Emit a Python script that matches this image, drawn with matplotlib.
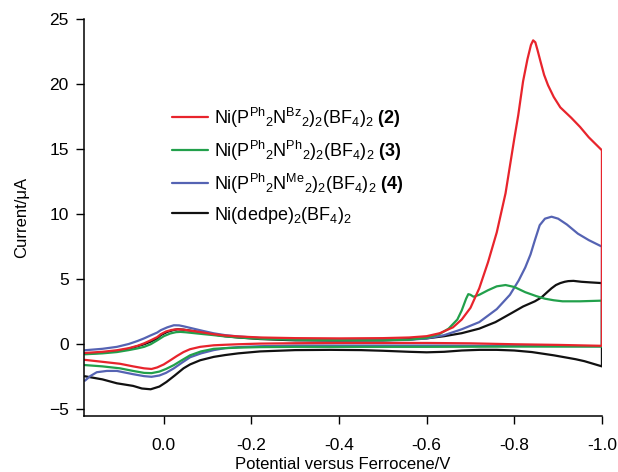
import matplotlib
matplotlib.use("Agg")
import matplotlib.pyplot as plt

plt.rcParams['font.family'] = ['Liberation Sans', 'DejaVu Sans']
plt.rcParams['mathtext.fontset'] = 'custom'
plt.rcParams['mathtext.rm'] = 'Liberation Sans'
plt.rcParams['mathtext.it'] = 'Liberation Sans:italic'
plt.rcParams['mathtext.bf'] = 'Liberation Sans:bold'

# ---- data: (potential V vs Fc, current uA), forward sweep then reverse ----
red_fwd_v = [0.18, 0.14, 0.107, 0.08, 0.06, 0.045, 0.03, 0.015, 0.007, -0.005, -0.018, -0.03, -0.045, -0.07,
             -0.09, -0.114, -0.14, -0.17, -0.22, -0.30, -0.40, -0.50, -0.56, -0.60, -0.63, -0.66, -0.68, -0.70,
             -0.72, -0.74, -0.76, -0.78, -0.80, -0.809, -0.82, -0.83, -0.838, -0.843, -0.848, -0.853, -0.86,
             -0.868, -0.877, -0.89, -0.905, -0.93, -0.95, -0.97, -0.985, -1.0]
red_fwd_i = [-0.67, -0.58, -0.46, -0.3, -0.12, 0.07, 0.3, 0.55, 0.77, 0.98, 1.1, 1.15, 1.12, 1.0,
             0.9, 0.77, 0.67, 0.6, 0.52, 0.47, 0.45, 0.47, 0.52, 0.62, 0.85, 1.3, 1.9, 2.8,
             4.3, 6.3, 8.6, 11.6, 15.8, 17.6, 20.2, 21.9, 23.0, 23.35, 23.2, 22.6, 21.7,
             20.7, 19.9, 19.0, 18.2, 17.4, 16.7, 15.9, 15.4, 14.9]
red_rev_v = [-1.0, -0.9, -0.8, -0.7, -0.6, -0.5, -0.4, -0.3, -0.22, -0.17, -0.14, -0.114, -0.083, -0.06, -0.045,
             -0.03, -0.015, 0.0, 0.015, 0.028, 0.045, 0.07, 0.1, 0.14, 0.18]
red_rev_i = [-0.12, -0.05, 0.0, 0.07, 0.1, 0.1, 0.1, 0.08, 0.05, 0.0, -0.04, -0.08, -0.2, -0.38, -0.6,
             -0.9, -1.23, -1.55, -1.78, -1.9, -1.85, -1.7, -1.5, -1.35, -1.2]

green_fwd_v = [0.18, 0.14, 0.107, 0.08, 0.06, 0.045, 0.03, 0.015, 0.0, -0.015, -0.028, -0.038, -0.05, -0.07,
               -0.09, -0.114, -0.14, -0.17, -0.22, -0.30, -0.40, -0.50, -0.56, -0.60, -0.63, -0.65, -0.67,
               -0.68, -0.69, -0.695, -0.70, -0.707, -0.72, -0.74, -0.76, -0.78, -0.80, -0.825, -0.85, -0.87,
               -0.89, -0.91, -0.95, -1.0]
green_fwd_i = [-0.77, -0.7, -0.6, -0.45, -0.32, -0.2, 0.0, 0.3, 0.62, 0.83, 0.93, 0.95, 0.92, 0.85,
               0.78, 0.7, 0.6, 0.52, 0.42, 0.35, 0.3, 0.3, 0.35, 0.5, 0.8, 1.2, 1.9,
               2.6, 3.5, 3.85, 3.8, 3.65, 3.8, 4.15, 4.45, 4.55, 4.4, 4.0, 3.7, 3.5,
               3.38, 3.3, 3.3, 3.35]
green_rev_v = [-1.0, -0.8, -0.6, -0.4, -0.3, -0.22, -0.17, -0.14, -0.114, -0.085, -0.06, -0.04, -0.023, -0.005,
               0.01, 0.028, 0.045, 0.07, 0.1, 0.14, 0.18]
green_rev_i = [-0.18, -0.18, -0.2, -0.2, -0.2, -0.22, -0.26, -0.3, -0.35, -0.55, -0.85, -1.25, -1.6, -1.9,
               -2.1, -2.22, -2.2, -2.05, -1.85, -1.7, -1.6]

blue_fwd_v = [0.18, 0.14, 0.107, 0.08, 0.06, 0.045, 0.03, 0.015, 0.007, -0.008, -0.023, -0.035, -0.045, -0.07,
              -0.09, -0.114, -0.14, -0.17, -0.22, -0.30, -0.40, -0.50, -0.56, -0.60, -0.64, -0.68, -0.72,
              -0.76, -0.79, -0.81, -0.825, -0.837, -0.847, -0.858, -0.87, -0.885, -0.90, -0.92, -0.945,
              -0.97, -1.0]
blue_fwd_i = [-0.46, -0.35, -0.2, 0.02, 0.25, 0.45, 0.68, 0.9, 1.08, 1.3, 1.46, 1.45, 1.38, 1.18,
              1.02, 0.84, 0.7, 0.6, 0.48, 0.36, 0.3, 0.3, 0.33, 0.45, 0.7, 1.15, 1.7,
              2.7, 3.8, 4.9, 5.9, 6.9, 8.0, 9.15, 9.65, 9.8, 9.65, 9.2, 8.5,
              8.0, 7.5]
blue_rev_v = [-1.0, -0.8, -0.6, -0.4, -0.3, -0.22, -0.17, -0.14, -0.114, -0.085, -0.06, -0.04, -0.023, -0.005,
              0.01, 0.028, 0.045, 0.07, 0.107, 0.13, 0.153, 0.168, 0.18]
blue_rev_i = [-0.15, -0.12, -0.1, -0.1, -0.1, -0.15, -0.22, -0.3, -0.45, -0.7, -1.0, -1.45, -1.85, -2.2,
              -2.4, -2.5, -2.45, -2.3, -2.05, -2.05, -2.15, -2.45, -2.8]

black_fwd_v = [0.18, 0.14, 0.107, 0.08, 0.06, 0.045, 0.03, 0.015, 0.007, -0.008, -0.023, -0.032, -0.045, -0.07,
               -0.09, -0.114, -0.14, -0.17, -0.22, -0.30, -0.40, -0.50, -0.60, -0.64, -0.68, -0.72, -0.757,
               -0.794, -0.82, -0.847, -0.862, -0.875, -0.885, -0.895, -0.905, -0.915, -0.923, -0.935, -0.953,
               -0.975, -1.0]
black_fwd_i = [-0.72, -0.65, -0.52, -0.35, -0.15, 0.0, 0.2, 0.45, 0.7, 0.95, 1.1, 1.15, 1.12, 1.0,
               0.88, 0.75, 0.62, 0.52, 0.4, 0.3, 0.28, 0.3, 0.45, 0.62, 0.85, 1.2, 1.7,
               2.4, 2.9, 3.3, 3.6, 4.0, 4.3, 4.55, 4.7, 4.8, 4.85, 4.87, 4.8,
               4.75, 4.7]
black_rev_v = [-1.0, -0.98, -0.96, -0.94, -0.915, -0.89, -0.87, -0.84, -0.80, -0.76, -0.72, -0.68, -0.64, -0.60,
               -0.56, -0.50, -0.45, -0.38, -0.30, -0.22, -0.17, -0.14, -0.114, -0.083, -0.06, -0.045, -0.025,
               -0.006, 0.01, 0.03, 0.05, 0.07, 0.107, 0.14, 0.18]
black_rev_i = [-1.7, -1.5, -1.3, -1.15, -1.0, -0.85, -0.75, -0.6, -0.48, -0.43, -0.43, -0.48, -0.58, -0.62,
               -0.58, -0.5, -0.45, -0.43, -0.45, -0.55, -0.7, -0.83, -0.97, -1.23, -1.55, -1.85, -2.4,
               -2.9, -3.25, -3.46, -3.4, -3.2, -3.0, -2.7, -2.46]

labels = [
    r'Ni(P$^{\mathrm{Ph}}{}_{\mathrm{2}}$N$^{\mathrm{Bz}}{}_{\mathrm{2}}$)$_{\mathrm{2}}$(BF$_{\mathrm{4}}$)$_{\mathrm{2}}$ $\mathbf{(2)}$',
    r'Ni(P$^{\mathrm{Ph}}{}_{\mathrm{2}}$N$^{\mathrm{Ph}}{}_{\mathrm{2}}$)$_{\mathrm{2}}$(BF$_{\mathrm{4}}$)$_{\mathrm{2}}$ $\mathbf{(3)}$',
    r'Ni(P$^{\mathrm{Ph}}{}_{\mathrm{2}}$N$^{\mathrm{Me}}{}_{\mathrm{2}}$)$_{\mathrm{2}}$(BF$_{\mathrm{4}}$)$_{\mathrm{2}}$ $\mathbf{(4)}$',
    r'Ni(dedpe)$_{\mathrm{2}}$(BF$_{\mathrm{4}}$)$_{\mathrm{2}}$',
]
colors = ['#e8242c', '#22a04b', '#5563b3', '#111111']

x_ticks = [0.0, -0.2, -0.4, -0.6, -0.8, -1.0]
x_ticklabels = ['0.0', '-0.2', '-0.4', '-0.6', '-0.8', '-1.0']
y_ticks = [-5, 0, 5, 10, 15, 20, 25]

fig = plt.figure(figsize=(6.18, 4.72), dpi=100)
ax = fig.add_axes([0.136, 0.119, 0.838, 0.841])

series = [
    (red_fwd_v + red_rev_v, red_fwd_i + red_rev_i),
    (green_fwd_v + green_rev_v, green_fwd_i + green_rev_i),
    (blue_fwd_v + blue_rev_v, blue_fwd_i + blue_rev_i),
    (black_fwd_v + black_rev_v, black_fwd_i + black_rev_i),
]
order = [3, 2, 1, 0]
handles = [None] * 4
for k in order:
    v, i = series[k]
    h, = ax.plot(v, i, color=colors[k], lw=1.6, label=labels[k],
                 solid_joinstyle='round', solid_capstyle='round')
    handles[k] = h

ax.set_xlim(0.182, -1.0)
ax.set_ylim(-5.5, 25)
ax.set_xticks(x_ticks)
ax.set_xticklabels(x_ticklabels)
ax.set_yticks(y_ticks)
ax.spines['top'].set_visible(False)
ax.spines['right'].set_visible(False)
for s in ['left', 'bottom']:
    ax.spines[s].set_linewidth(1.1)
ax.tick_params(direction='out', length=6, width=1.0, labelsize=12.5)
ax.tick_params(axis='x', pad=10)
ax.tick_params(axis='y', pad=5)
ax.set_xlabel('Potential versus Ferrocene/V', fontsize=12, labelpad=3)
ax.set_ylabel('Current/\u03bcA', fontsize=12, labelpad=14)

leg = ax.legend(handles=handles, labels=labels, loc='upper left', bbox_to_anchor=(0.17, 0.782),
                frameon=False, fontsize=13, handlelength=2.0, handletextpad=0.3,
                labelspacing=0.5, borderaxespad=0, borderpad=0)

fig.savefig('out.png', dpi=100)
